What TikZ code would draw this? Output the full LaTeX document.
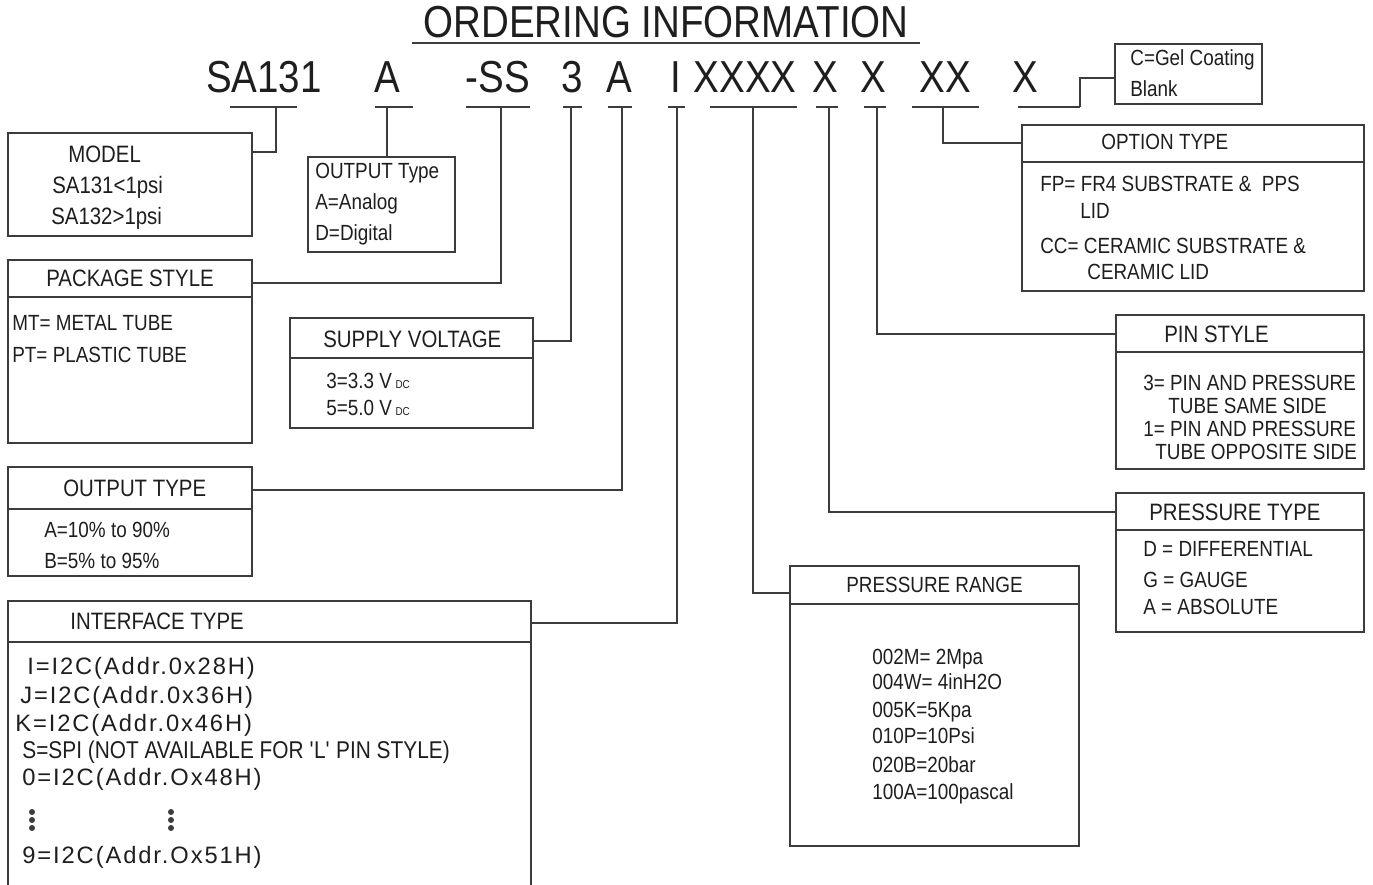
\documentclass[tikz,border=0pt]{standalone}
\usepackage{fontspec}
\setmainfont[FakeStretch=0.86]{Liberation Sans}
\newfontfamily\spacedfont[LetterSpace=8]{Liberation Sans}
\definecolor{linegray}{HTML}{3C3C3C}
\definecolor{inkblack}{HTML}{1E1E1E}

\begin{document}
\begin{tikzpicture}[x=0.02cm, y=-0.02cm, text=inkblack,
    wire/.style={draw=linegray, line width=0.7pt},
    box/.style={draw=linegray, line width=0.8pt},
    head/.style={anchor=base west, inner sep=0pt, font=\fontsize{13.5}{16}\selectfont},
    item/.style={anchor=base west, inner sep=0pt, font=\fontsize{12.5}{15}\selectfont},
    addr/.style={anchor=base west, inner sep=0pt, font=\spacedfont\fontsize{13.5}{16}\selectfont},
    code/.style={anchor=base, inner sep=0pt, font=\fontsize{25.5}{30}\selectfont}]
    \useasboundingbox (0,0) rectangle (1373,885);

    % Title
    \node[code] (title) at (666,38) {ORDERING INFORMATION};
    \draw[wire, line width=1pt] (412,43) -- (920,43);

    % Part number
    \node[code] (k1) at (264,93) {SA131};
    \node[code] (k2) at (387,93) {A};
    \node[code] (k3) at (498,93) {-SS};
    \node[code] (k4) at (572,93) {3};
    \node[code] (k5) at (619,93) {A};
    \node[code] (k6) at (676,93) {I};
    \node[code] (k7) at (745,93) {XXXX};
    \node[code] (k8) at (825,93) {X};
    \node[code] (k9) at (873,93) {X};
    \node[code] (k10) at (945,93) {XX};
    \node[code] (k11) at (1025,93) {X};

    % Underlines and stem points
    \foreach \name/\xa/\xb/\xs in {model/230/297/276, otype/375/413/387, pkg/466/530/501,
        volt/563/582/571, out/608/632/622, intf/668/685/677, range/710/797/753,
        ptype/816/838/829, pin/864/886/877, opt/912/979/943, gel/1018/1080/1080} {
        \draw[wire, line width=1pt] (\xa,107) -- (\xb,107);
        \coordinate (s-\name) at (\xs,107);
    }

    % MODEL
    \draw[box] (8,133) rectangle (252,236);
    \coordinate (model-in) at (252,152);
    \node[head] (model-h) at (68,163) {MODEL};
    \node[item, font=\fontsize{13.5}{16}\selectfont] (model-1) at (52,194) {SA131<1psi};
    \node[item, font=\fontsize{13.5}{16}\selectfont] (model-2) at (51,225) {SA132>1psi};

    % OUTPUT Type
    \draw[box] (308,157) rectangle (455,252);
    \coordinate (otype-in) at (387,157);
    \node[item] (otype-h) at (315,179) {OUTPUT Type};
    \node[item] (otype-1) at (315,210) {A=Analog};
    \node[item] (otype-2) at (315,241) {D=Digital};

    % PACKAGE STYLE
    \draw[box] (8,260) rectangle (252,443);
    \draw[box] (8,297) -- (252,297);
    \coordinate (pkg-in) at (252,283);
    \node[head] (pkg-h) at (46,287) {PACKAGE STYLE};
    \node[item] (pkg-1) at (12,331) {MT= METAL TUBE};
    \node[item] (pkg-2) at (12,362) {PT= PLASTIC TUBE};

    % SUPPLY VOLTAGE
    \draw[box] (290,318) rectangle (533,428);
    \draw[box] (290,358) -- (533,358);
    \coordinate (volt-in) at (533,341);
    \node[head] (volt-h) at (323,347) {SUPPLY VOLTAGE};
    \node[item] (volt-1) at (326,388) {3=3.3 V\,{\fontsize{6.5}{7}\selectfont DC}};
    \node[item] (volt-2) at (326,415) {5=5.0 V\,{\fontsize{6.5}{7}\selectfont DC}};

    % OUTPUT TYPE
    \draw[box] (8,467) rectangle (252,576);
    \draw[box] (8,509) -- (252,509);
    \coordinate (out-in) at (252,490);
    \node[head] (out-h) at (63,496) {OUTPUT TYPE};
    \node[item] (out-1) at (44,537) {A=10\% to 90\%};
    \node[item] (out-2) at (44,568) {B=5\% to 95\%};

    % INTERFACE TYPE
    \draw[box] (8,885) |- (531,601) -- (531,885);
    \draw[box] (8,642) -- (531,642);
    \coordinate (intf-in) at (531,623);
    \node[head] (intf-h) at (70,629) {INTERFACE TYPE};
    \node[addr] (intf-1) at (27,674) {I=I2C(Addr.0x28H)};
    \node[addr] (intf-2) at (20,703) {J=I2C(Addr.0x36H)};
    \node[addr] (intf-3) at (15,731) {K=I2C(Addr.0x46H)};
    \node[item, font=\fontsize{13.8}{16}\selectfont] (intf-4) at (22,758) {S=SPI (NOT AVAILABLE FOR \textquotesingle L\textquotesingle\ PIN STYLE)};
    \node[addr] (intf-5) at (22,785) {0=I2C(Addr.Ox48H)};
    % vertical dots
    \foreach \dx in {32,171}
        \foreach \dy in {812,820,828}
            \fill[linegray] (\dx,\dy) circle (3);
    \node[addr] (intf-9) at (22,863) {9=I2C(Addr.Ox51H)};

    % PRESSURE RANGE
    \draw[box] (790,566) rectangle (1079,846);
    \draw[box] (790,604) -- (1079,604);
    \coordinate (range-in) at (790,593);
    \node[item] (range-h) at (846,592) {PRESSURE RANGE};
    \node[item] (range-1) at (872,664) {002M= 2Mpa};
    \node[item] (range-2) at (872,689) {004W= 4inH2O};
    \node[item] (range-3) at (872,717) {005K=5Kpa};
    \node[item] (range-4) at (872,743) {010P=10Psi};
    \node[item] (range-5) at (872,772) {020B=20bar};
    \node[item] (range-6) at (872,799) {100A=100pascal};

    % PRESSURE TYPE
    \draw[box] (1116,493) rectangle (1364,632);
    \draw[box] (1116,530) -- (1364,530);
    \coordinate (ptype-in) at (1116,512);
    \node[head] (ptype-h) at (1149,520) {PRESSURE TYPE};
    \node[item] (ptype-1) at (1143,556) {D = DIFFERENTIAL};
    \node[item] (ptype-2) at (1143,587) {G = GAUGE};
    \node[item] (ptype-3) at (1143,614) {A = ABSOLUTE};

    % PIN STYLE
    \draw[box] (1116,315) rectangle (1364,469);
    \draw[box] (1116,352) -- (1364,352);
    \coordinate (pin-in) at (1116,334);
    \node[head] (pin-h) at (1164,342) {PIN STYLE};
    \node[item] (pin-1) at (1143,390) {3= PIN AND PRESSURE};
    \node[item] (pin-2) at (1168,413) {TUBE SAME SIDE};
    \node[item] (pin-3) at (1143,436) {1= PIN AND PRESSURE};
    \node[item] (pin-4) at (1155,459) {TUBE OPPOSITE SIDE};

    % OPTION TYPE
    \draw[box] (1022,125) rectangle (1364,291);
    \draw[box] (1022,162) -- (1364,162);
    \coordinate (opt-in) at (1022,143);
    \node[item] (opt-h) at (1101,150) {OPTION TYPE};
    \node[item] (opt-1) at (1040,192) {FP= FR4 SUBSTRATE \&\ \ PPS};
    \node[item] (opt-2) at (1080,219) {LID};
    \node[item] (opt-3) at (1040,254) {CC= CERAMIC SUBSTRATE \&};
    \node[item] (opt-4) at (1087,279) {CERAMIC LID};

    % Gel coating
    \draw[box] (1115,44) rectangle (1262,104);
    \coordinate (gel-in) at (1115,78);
    \node[item] (gel-1) at (1130,66) {C=Gel Coating};
    \node[item] (gel-2) at (1130,97) {Blank};

    % Connectors
    \draw[wire] (s-model) |- (model-in);
    \draw[wire] (s-otype) -- (otype-in);
    \draw[wire] (s-pkg) |- (pkg-in);
    \draw[wire] (s-volt) |- (volt-in);
    \draw[wire] (s-out) |- (out-in);
    \draw[wire] (s-intf) |- (intf-in);
    \draw[wire] (s-range) |- (range-in);
    \draw[wire] (s-ptype) |- (ptype-in);
    \draw[wire] (s-pin) |- (pin-in);
    \draw[wire] (s-opt) |- (opt-in);
    \draw[wire] (s-gel) |- (gel-in);
\end{tikzpicture}
\end{document}
